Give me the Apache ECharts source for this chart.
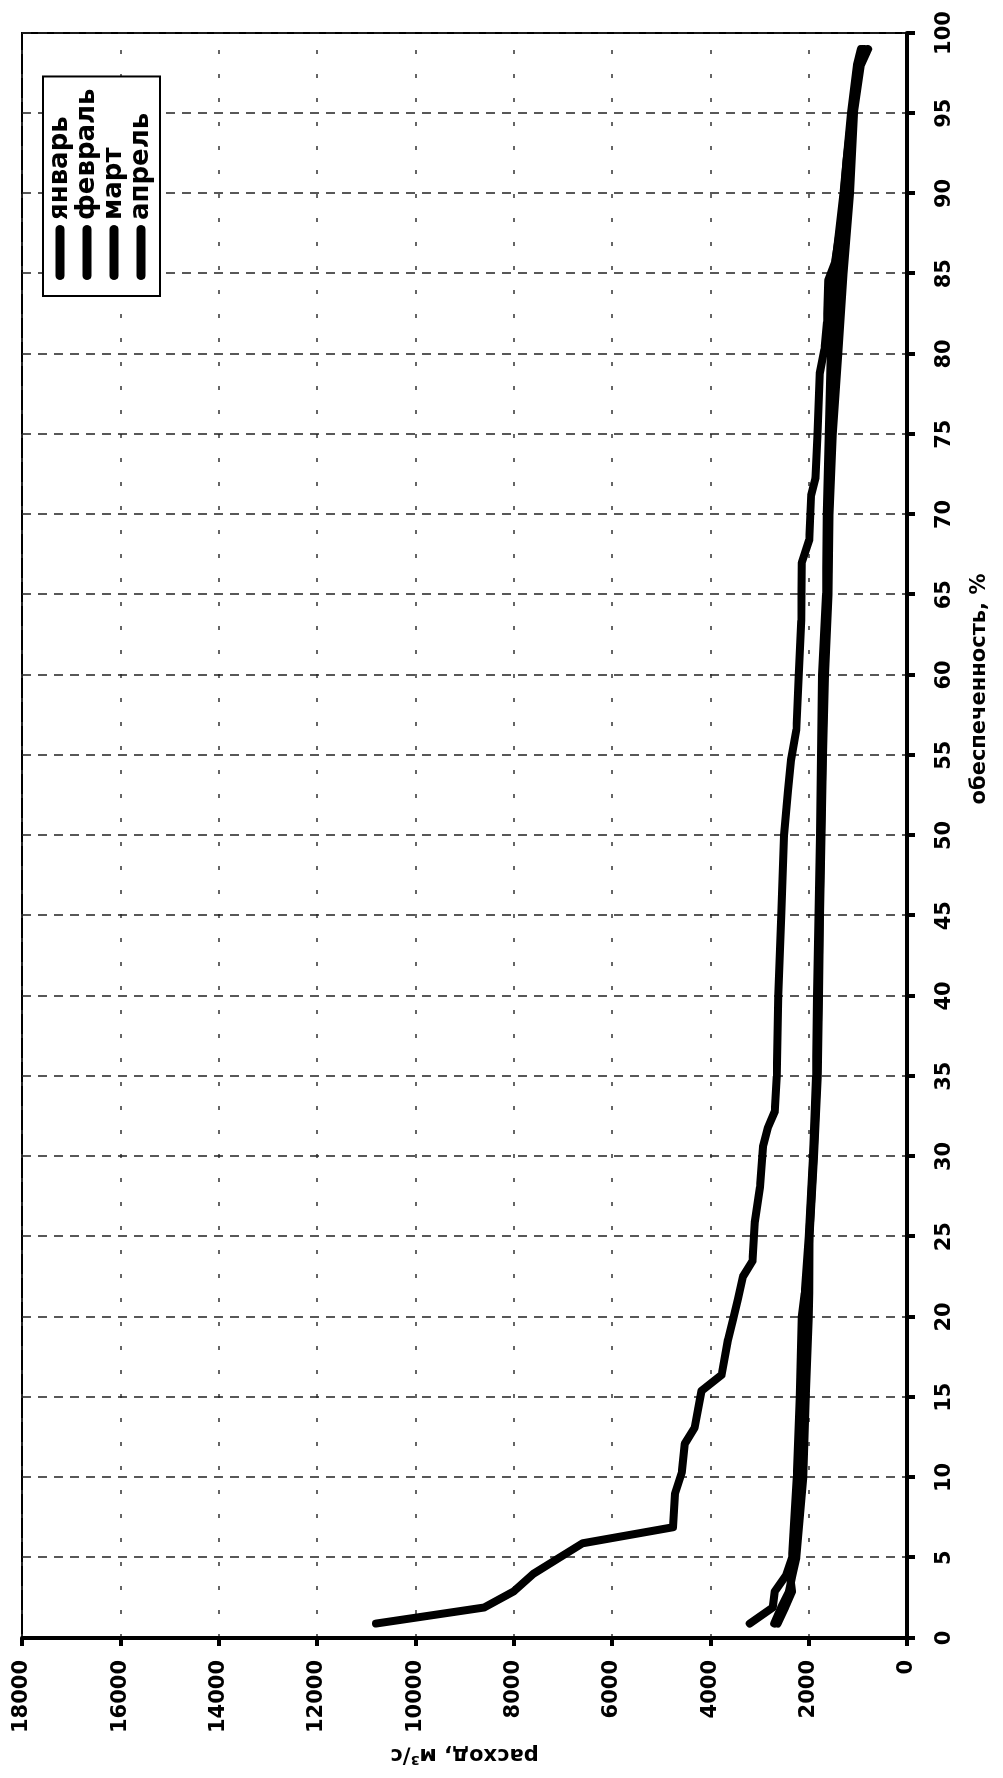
<!DOCTYPE html>
<html lang="ru">
<head>
<meta charset="UTF-8">
<title>обеспеченность</title>
<script src="https://cdn.jsdelivr.net/npm/echarts@6/dist/echarts.min.js"></script>
<style>
    html, body {
        margin: 0;
        padding: 0;
        width: 1003px;
        height: 1778px;
        overflow: hidden;
        background: #fff;
    }
    /* chart is drawn landscape and turned 90deg counter-clockwise, like the scan */
    #chart {
        position: absolute;
        left: 0;
        top: 0;
        width: 1778px;
        height: 1003px;
        transform-origin: 0 0;
        transform: translate(0, 1778px) rotate(-90deg);
    }
</style>
</head>
<body>
<div id="chart"></div>
<script>
    // обеспеченность, % (shared by the three low-flow months)
    var pctBand = [0.9, 1.9, 2.9, 3.9, 5, 10, 15, 20, 21.5, 25, 30, 35, 40, 45, 50, 55, 60, 65, 70, 75, 80, 85, 90, 95, 98, 99];
    // расход, м3/с
    var qJan = [2700, 2560, 2400, 2330, 2250, 2110, 2060, 2000, 1990, 1985, 1890, 1815, 1790, 1770, 1740, 1710, 1670, 1595, 1575, 1510, 1400, 1290, 1160, 1080, 940, 790];
    var qFeb = [3200, 2730, 2690, 2460, 2340, 2240, 2180, 2140, 2080, 2000, 1910, 1850, 1830, 1800, 1770, 1750, 1730, 1650, 1630, 1590, 1550, 1480, 1290, 1140, 1020, 940];
    var qMar = [2630, 2480, 2340, 2380, 2290, 2170, 2110, 2060, 2030, 1990, 1900, 1830, 1800, 1780, 1750, 1720, 1690, 1610, 1590, 1530, 1440, 1350, 1200, 1100, 960, 860];

    var pctApr = [0.9, 1.9, 2.9, 4, 5.9, 6.9, 9, 10.3, 12.1, 13.1, 15.4, 16.4, 18.6, 19.8, 21.1, 22.5, 23.5, 25.9, 28.1, 30.6, 31.8, 32.8, 35, 40, 45, 50, 52.8, 54.7, 56.6, 60, 63.4, 67, 68.4, 71.2, 72.3, 75, 78.8, 80.3, 82, 84.6, 85.7, 87.7, 89.2, 92, 95, 98, 99];
    var qApr = [10800, 8600, 8000, 7600, 6600, 4760, 4720, 4580, 4520, 4320, 4180, 3770, 3640, 3540, 3440, 3340, 3140, 3095, 2990, 2930, 2830, 2690, 2650, 2620, 2560, 2500, 2420, 2360, 2250, 2200, 2150, 2140, 1990, 1950, 1860, 1820, 1775, 1680, 1625, 1600, 1466, 1364, 1300, 1230, 1120, 1000, 900];

    var months = ['январь', 'февраль', 'март', 'апрель'];

    function pairs(xs, ys) {
        return xs.map(function (x, i) { return [x, ys[i]]; });
    }

    var FONT = 'DejaVu Sans';

    function lineSeries(name, data) {
        return {
            name: name,
            type: 'line',
            data: data,
            symbol: 'none',
            smooth: false,
            lineStyle: { color: '#000', width: 8, cap: 'round', join: 'round' },
            itemStyle: { color: '#000' }
        };
    }

    var chart = echarts.init(document.getElementById('chart'));

    chart.setOption({
        animation: false,
        backgroundColor: '#fff',
        grid: {
            left: 140, right: 33, top: 22, bottom: 96,
            show: true,
            borderColor: '#000',
            borderWidth: 2
        },
        legend: {
            data: months,
            orient: 'vertical',
            left: 1482,
            top: 43,
            padding: [4, 12, 6, 16],
            itemGap: 1,
            itemWidth: 55,
            itemHeight: 9,
            icon: 'path://M4.5,0 L50.5,0 A4.5,4.5 0 0 1 50.5,9 L4.5,9 A4.5,4.5 0 0 1 4.5,0 Z',
            itemStyle: { color: '#000' },
            borderColor: '#000',
            borderWidth: 2,
            borderRadius: 0,
            backgroundColor: '#fff',
            textStyle: { color: '#000', fontFamily: FONT, fontWeight: 'bold', fontSize: 26 }
        },
        xAxis: {
            type: 'value',
            min: 0,
            max: 100,
            interval: 5,
            name: 'обеспеченность, %',
            nameLocation: 'middle',
            nameGap: 62,
            nameTextStyle: { color: '#000', fontFamily: FONT, fontWeight: 'bold', fontSize: 21, padding: [0, 0, 0, 293] },
            axisLine: { lineStyle: { color: '#000', width: 4 } },
            axisTick: { show: true, inside: false, length: 8, lineStyle: { color: '#000', width: 4 } },
            axisLabel: { color: '#000', fontFamily: FONT, fontWeight: 'bold', fontSize: 21, margin: 27 },
            splitLine: { show: true, lineStyle: { color: '#222', width: 1.5, type: [9, 7] } }
        },
        yAxis: {
            type: 'value',
            min: 0,
            max: 18000,
            interval: 2000,
            name: 'расход, м³/с',
            nameLocation: 'middle',
            nameGap: 105,
            nameTextStyle: { color: '#000', fontFamily: FONT, fontWeight: 'bold', fontSize: 21 },
            axisLine: { show: true, lineStyle: { color: '#000', width: 4 } },
            axisTick: { show: true, inside: false, length: 8, lineStyle: { color: '#000', width: 4 } },
            axisLabel: {
                color: '#000', fontFamily: FONT, fontWeight: 'bold', fontSize: 21, margin: 22,
                formatter: function (v) { return String(v); }
            },
            splitLine: { show: true, lineStyle: { color: '#333', width: 1.5, type: [4, 20] } }
        },
        series: [
            lineSeries('январь', pairs(pctBand, qJan)),
            lineSeries('февраль', pairs(pctBand, qFeb)),
            lineSeries('март', pairs(pctBand, qMar)),
            lineSeries('апрель', pairs(pctApr, qApr))
        ]
    });
</script>
</body>
</html>
